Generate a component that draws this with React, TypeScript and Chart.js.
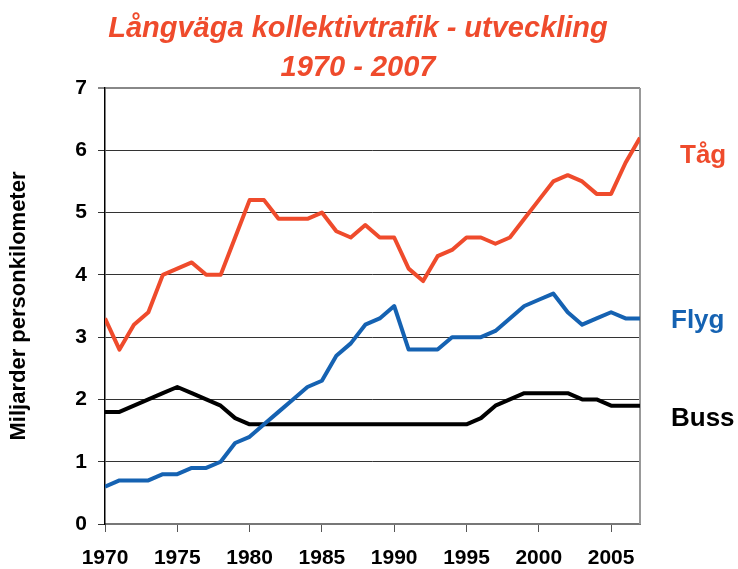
import React, { useEffect, useRef } from 'react';
import { Chart, registerables } from 'chart.js';

Chart.register(...registerables);

const FONT = '"Liberation Sans", Arial, Helvetica, sans-serif';

const years = [
  1970, 1971, 1972, 1973, 1974, 1975, 1976, 1977, 1978, 1979,
  1980, 1981, 1982, 1983, 1984, 1985, 1986, 1987, 1988, 1989,
  1990, 1991, 1992, 1993, 1994, 1995, 1996, 1997, 1998, 1999,
  2000, 2001, 2002, 2003, 2004, 2005, 2006, 2007,
];

const tag = [
  3.3, 2.8, 3.2, 3.4, 4.0, 4.1, 4.2, 4.0, 4.0, 4.6,
  5.2, 5.2, 4.9, 4.9, 4.9, 5.0, 4.7, 4.6, 4.8, 4.6,
  4.6, 4.1, 3.9, 4.3, 4.4, 4.6, 4.6, 4.5, 4.6, 4.9,
  5.2, 5.5, 5.6, 5.5, 5.3, 5.3, 5.8, 6.2,
];

const flyg = [
  0.6, 0.7, 0.7, 0.7, 0.8, 0.8, 0.9, 0.9, 1.0, 1.3,
  1.4, 1.6, 1.8, 2.0, 2.2, 2.3, 2.7, 2.9, 3.2, 3.3,
  3.5, 2.8, 2.8, 2.8, 3.0, 3.0, 3.0, 3.1, 3.3, 3.5,
  3.6, 3.7, 3.4, 3.2, 3.3, 3.4, 3.3, 3.3,
];

const buss = [
  1.8, 1.8, 1.9, 2.0, 2.1, 2.2, 2.1, 2.0, 1.9, 1.7,
  1.6, 1.6, 1.6, 1.6, 1.6, 1.6, 1.6, 1.6, 1.6, 1.6,
  1.6, 1.6, 1.6, 1.6, 1.6, 1.6, 1.7, 1.9, 2.0, 2.1,
  2.1, 2.1, 2.1, 2.0, 2.0, 1.9, 1.9, 1.9,
];

const seriesNames = ['Tåg', 'Flyg', 'Buss'];
const seriesValues = [tag, flyg, buss];
const seriesColors = ['#EF4B2C', '#1562B2', '#000000'];

const titleLines = ['Långväga kollektivtrafik - utveckling', '1970 - 2007'];
const yAxisTitle = 'Miljarder personkilometer';

// where the series names sit: offset from the plot's right edge, and the
// y value on which the text baseline is placed
const seriesLabelPlacement = [
  { dx: 40, value: 5.8 },
  { dx: 31, value: 3.15 },
  { dx: 31, value: 1.575 },
];

const overlayPlugin = {
  id: 'overlay',
  beforeDatasetsDraw(chart: any) {
    const { ctx, chartArea } = chart;
    ctx.save();
    ctx.strokeStyle = '#999999';
    ctx.lineWidth = 2;
    ctx.beginPath();
    ctx.moveTo(chartArea.right, chartArea.top);
    ctx.lineTo(chartArea.right, chartArea.bottom);
    ctx.stroke();
    ctx.restore();
  },
  afterDraw(chart: any) {
    const { ctx, chartArea } = chart;
    const yScale = chart.scales.y;
    ctx.save();
    // title
    ctx.fillStyle = seriesColors[0];
    ctx.font = `italic bold 29px ${FONT}`;
    ctx.textAlign = 'center';
    ctx.textBaseline = 'alphabetic';
    const titleBaselines = [37, 76];
    titleLines.forEach((line, i) => {
      ctx.fillText(line, 358, titleBaselines[i]);
    });
    // series names
    ctx.font = `bold 26px ${FONT}`;
    ctx.textAlign = 'left';
    seriesNames.forEach((name, i) => {
      const p = seriesLabelPlacement[i];
      ctx.fillStyle = seriesColors[i];
      ctx.fillText(name, chartArea.right + p.dx, yScale.getPixelForValue(p.value));
    });
    ctx.restore();
  },
};

export default function App() {
  const canvasRef = useRef<HTMLCanvasElement | null>(null);

  useEffect(() => {
    if (!canvasRef.current) return;
    const datasets = seriesNames.map((name, i) => ({
      label: name,
      data: years.map((yr, j) => ({ x: yr, y: seriesValues[i][j] })),
      borderColor: seriesColors[i],
      backgroundColor: seriesColors[i],
      borderWidth: 4,
      pointRadius: 0,
      tension: 0,
      borderJoinStyle: 'round' as const,
      fill: false,
    }));

    const chart = new Chart(canvasRef.current, {
      type: 'line',
      data: { datasets },
      plugins: [overlayPlugin],
      options: {
        animation: false,
        responsive: false,
        devicePixelRatio: 1,
        layout: { padding: { top: 88, right: 98, bottom: 0, left: 0 } },
        plugins: {
          legend: { display: false },
          tooltip: { enabled: false },
          title: { display: false },
        },
        scales: {
          x: {
            type: 'linear',
            min: 1970,
            max: 2007,
            afterFit(scale: any) {
              scale.height = 45;
            },
            ticks: {
              stepSize: 5,
              includeBounds: false,
              autoSkip: false,
              maxRotation: 0,
              padding: 14,
              color: '#000',
              font: { family: FONT, size: 21, weight: 'bold' },
              callback: (v: any) => String(v),
            },
            grid: {
              drawOnChartArea: false,
              drawTicks: true,
              tickLength: 8,
              color: '#555',
              lineWidth: 1,
            },
            border: { display: true, color: '#777', width: 2 },
          },
          y: {
            type: 'linear',
            min: 0,
            max: 7,
            afterFit(scale: any) {
              scale.width = 105;
            },
            ticks: {
              stepSize: 1,
              padding: 11,
              color: '#000',
              font: { family: FONT, size: 21, weight: 'bold' },
            },
            grid: {
              drawTicks: true,
              tickLength: 7,
              color: (c: any) => (c.tick && c.tick.value === 7 ? '#888' : '#333'),
              lineWidth: (c: any) => (c.tick && c.tick.value === 7 ? 2 : 1),
            },
            border: { display: true, color: '#000', width: 1.5 },
            title: {
              display: true,
              text: yAxisTitle,
              color: '#000',
              padding: { top: 6, bottom: 0 },
              font: { family: FONT, size: 22, weight: 'bold' },
            },
          },
        },
      },
    });
    return () => chart.destroy();
  }, []);

  return (
    <div style={{ position: 'absolute', left: 0, top: 0, width: 738, height: 569, background: '#fff' }}>
      <canvas ref={canvasRef} width={738} height={569} style={{ display: 'block' }} />
    </div>
  );
}
